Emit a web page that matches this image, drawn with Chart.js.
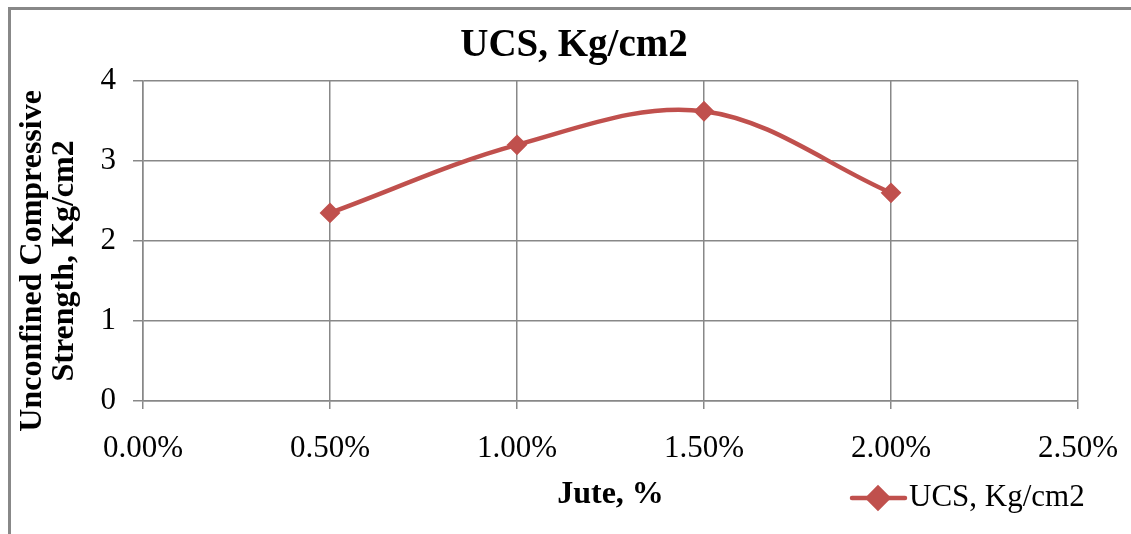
<!DOCTYPE html>
<html>

<head>
    <script src="https://cdn.jsdelivr.net/npm/chart.js@4.4.1/dist/chart.umd.min.js"></script>
    <style>
        html, body { margin: 0; padding: 0; background: #fff; overflow: hidden; }
    </style>
</head>

<body>
    <canvas id="ucs" width="1131" height="534"></canvas>

    <script>
        // values
        const jutePct = [0.5, 1.0, 1.5, 2.0]
        const ucsValues = [2.35, 3.2, 3.62, 2.6]
        const seriesName = 'UCS, Kg/cm2'
        const xTitle = 'Jute, %'
        const yTitle = ['Unconfined Compressive', 'Strength, Kg/cm2']

        const serif = "'Liberation Serif', 'Times New Roman', serif"
        const red = '#C0504D'
        const gridGray = '#888888'

        const points = jutePct.map((x, i) => ({ x: x, y: ucsValues[i] }))

        // outer frame, like the Excel chart object border
        const framePlugin = {
            id: 'frame',
            afterLayout(chart) {
                // Excel centres the title over the whole chart object, not the plot
                if (chart.titleBlock) {
                    chart.titleBlock.left = 70
                    chart.titleBlock.right = 1078
                }
            },
            afterDraw(chart) {
                const ctx = chart.ctx
                ctx.save()
                ctx.strokeStyle = '#888'
                ctx.lineWidth = 3
                ctx.beginPath()
                ctx.moveTo(9.5, chart.height + 5)
                ctx.lineTo(9.5, 8.5)
                ctx.lineTo(chart.width + 5, 8.5)
                ctx.stroke()
                ctx.restore()
            }
        }

        // legend sits on the same row as the x axis title, at the right
        const legendPlugin = {
            id: 'sideLegend',
            afterDraw(chart) {
                const ctx = chart.ctx
                const ds = chart.data.datasets[0]
                const y = 498
                ctx.save()
                ctx.strokeStyle = ds.borderColor
                ctx.lineWidth = 4.5
                ctx.lineCap = 'round'
                ctx.beginPath()
                ctx.moveTo(852, y)
                ctx.lineTo(905, y)
                ctx.stroke()
                Chart.helpers.drawPoint(ctx, {
                    pointStyle: 'rectRot', radius: 10, borderWidth: 1
                }, 878, y)
                ctx.fillStyle = ds.backgroundColor
                ctx.fill()
                ctx.fillStyle = '#000'
                ctx.font = '31px ' + serif
                ctx.textBaseline = 'middle'
                ctx.textAlign = 'left'
                ctx.fillText(ds.label, 909, y)
                ctx.restore()
            }
        }

        new Chart(document.getElementById('ucs'), {
            type: 'line',
            data: {
                datasets: [{
                    label: seriesName,
                    data: points,
                    borderColor: red,
                    backgroundColor: red,
                    borderWidth: 4.5,
                    tension: 0.35,
                    pointStyle: 'rectRot',
                    pointRadius: 9,
                    pointBorderWidth: 2,
                    pointBackgroundColor: red,
                    pointBorderColor: red
                }]
            },
            options: {
                responsive: false,
                animation: false,
                devicePixelRatio: 1,
                layout: { autoPadding: false, padding: { top: 0, left: 0, right: 53, bottom: 0 } },
                plugins: {
                    legend: { display: false },
                    tooltip: { enabled: false },
                    title: {
                        display: true,
                        text: seriesName,
                        color: '#000',
                        font: { family: serif, size: 39, weight: 'bold', lineHeight: 1.2 },
                        padding: { top: 23, bottom: 11 }
                    }
                },
                scales: {
                    x: {
                        type: 'linear',
                        min: 0,
                        max: 2.5,
                        afterFit(scale) {
                            scale.height = 133
                            // the end labels fit inside the frame, no extra side padding
                            scale.paddingLeft = 0
                            scale.paddingRight = 0
                        },
                        ticks: {
                            stepSize: 0.5,
                            color: '#000',
                            padding: 21,
                            maxRotation: 0,
                            font: { family: serif, size: 31 },
                            callback: v => v.toFixed(2) + '%'
                        },
                        grid: { color: gridGray, lineWidth: 1.5, tickLength: 8 },
                        border: { color: gridGray, width: 1.5 },
                        title: {
                            display: true,
                            text: xTitle,
                            color: '#000',
                            font: { family: serif, size: 32, weight: 'bold', lineHeight: 1.2 },
                            padding: { top: 0, bottom: 20 }
                        }
                    },
                    y: {
                        min: 0,
                        max: 4,
                        afterFit(scale) { scale.width = 143 },
                        ticks: {
                            stepSize: 1,
                            color: '#000',
                            padding: 17,
                            font: { family: serif, size: 31 }
                        },
                        grid: { color: gridGray, lineWidth: 1.5, tickLength: 10 },
                        border: { color: gridGray, width: 1.5 },
                        title: {
                            display: true,
                            // trailing spaces push the block down, as Excel centres it on the whole chart height
                            text: yTitle.map(s => s + '     '),
                            color: '#000',
                            font: { family: serif, size: 32, weight: 'bold', lineHeight: 1.0 },
                            padding: { top: 17, bottom: 0 }
                        }
                    }
                }
            },
            plugins: [framePlugin, legendPlugin]
        })
    </script>

</body>

</html>
